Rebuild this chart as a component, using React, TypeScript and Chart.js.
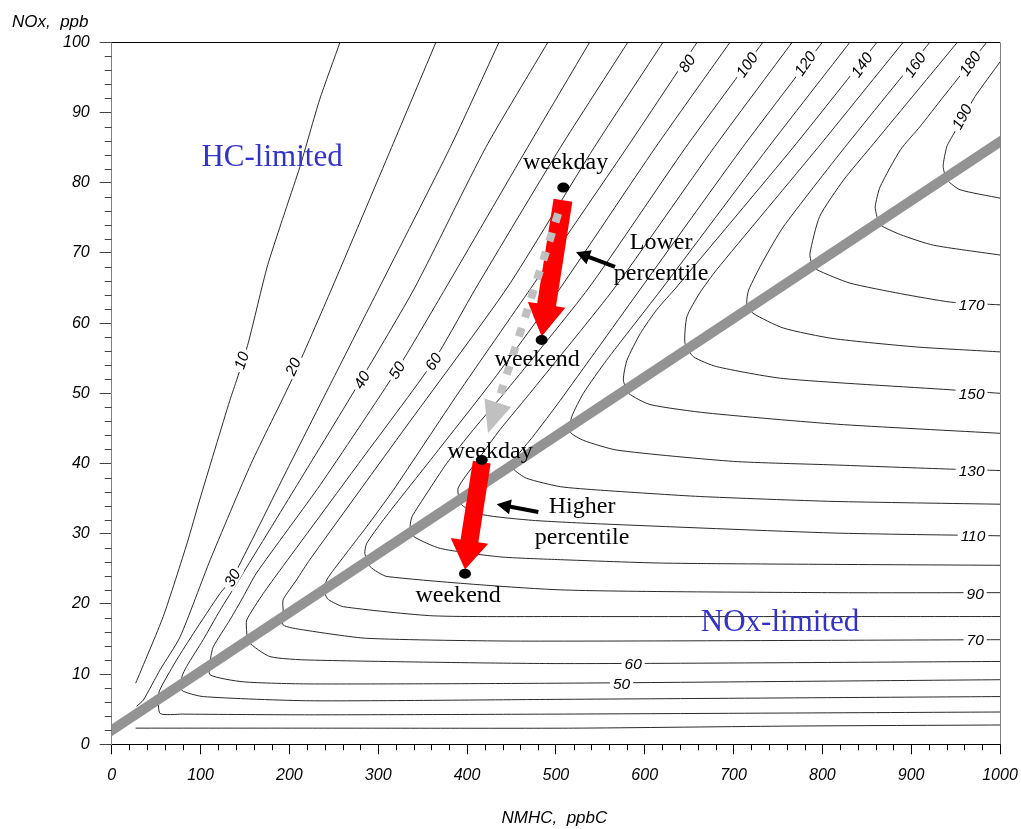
import React, { useEffect, useRef } from 'react';
import { Chart, registerables } from 'chart.js';

Chart.register(...registerables);

// Axis tick labels
const xTickValues = [0, 100, 200, 300, 400, 500, 600, 700, 800, 900, 1000];
const yTickValues = [0, 10, 20, 30, 40, 50, 60, 70, 80, 90, 100];

// Ozone isopleths [NMHC ppbC, NOx ppb]
const c10 = [[257, 100], [234, 91.8], [212, 82.3], [197, 76.6], [175, 68], [154, 57.3], [141, 52], [133, 49], [99, 34.8], [85, 28.7], [58, 18.2], [27, 8.7]];
const c20 = [[365, 100], [315, 85], [248, 65], [203, 52], [157, 40], [111, 26.3], [77, 15.3], [54.4, 10.6], [35.6, 6.3], [28, 5.4], [27.5, null], [27, 2.3], [220, 2.3], [520, 2.3], [767, 2.6], [1000, 2.75]];
const c30 = [[436, 100], [381, 85], [301, 65], [249, 52], [197, 39], [136, 23.7], [122, 21.5], [92, 15.8], [73, 12], [58, 8.7], [53, 7.3], [54.4, 4.4], [80, 4.3], [223, 4.2], [500, 4.3], [1000, 4.6]];
const c40 = [[491, 100], [421, 85], [341, 65], [281, 52], [209, 37], [140.7, 22.9], [122, 19.1], [103, 14.9], [84.4, 11.1], [79, 9.6], [78.8, 7.7], [103, 6.8], [223, 6.2], [500, 6.4], [1000, 6.8]];
const c50 = [[538, 100], [468, 85], [376, 65], [321, 53.3], [235, 37], [163, 24.4], [148, 21], [133, 17.7], [114.4, 13.9], [111, 12], [110.7, 9.9], [148, 8.9], [223, 8.6], [500, 8.7], [1000, 9.2]];
const c60 = [[581, 100], [505, 85], [410, 65], [362, 54.5], [278, 40], [189.5, 24.8], [170.7, 21.5], [152, 17.7], [152, 16], [153.8, 14.6], [178, 12.5], [223, 12.0], [500, 11.5], [1000, 11.8]];
const c70 = [[620.6, 100], [543, 85], [445, 65], [330, 45], [223, 26.3], [208, 23.4], [193, 20.6], [193, 19.1], [193, 17.0], [215.7, 16.3], [287, 15.1], [460, 14.7], [1000, 14.9]];
const c80 = [[659, 100], [580, 85], [472, 65], [390, 50], [317, 36.2], [287, 31], [261, 26.7], [242, 23.4], [240, 21.5], [244, 20.6], [261, 19.6], [362, 18.3], [505, 18.2], [1000, 18.2]];
const c90 = [[696, 100], [612, 85], [505, 65], [430, 52], [362, 41], [332, 36.2], [306, 32], [287, 28.6], [285, 27.2], [291, 25.3], [310, 23.9], [505, 22], [812, 21.6], [1000, 21.6]];
const c100 = [[733, 100], [646, 85], [537, 65], [445, 50.5], [407, 44.8], [377, 40], [355, 35.8], [338, 32.4], [336, 31], [340, 29.6], [370, 27.9], [437, 26.7], [505, 26.3], [625, 25.8], [1000, 25.5]];
const c110 = [[766, 100], [678, 85], [566, 65], [474, 50.5], [437, 44.8], [415, 41], [390, 36.5], [394, 34.1], [418, 32.7], [474, 31.9], [550, 31.4], [812, 30.1], [1000, 29.7]];
const c120 = [[800, 100], [710, 85], [596, 65], [505, 49], [474, 43.8], [456, 41], [452, 39.3], [467, 37.9], [505, 36.7], [550, 36.2], [662, 35.3], [812, 34.6], [1000, 34.2]];
const c130 = [[831, 100], [739, 85], [620, 65], [557, 54.7], [531, 50], [518, 46.7], [516, 44.5], [531, 43.3], [569, 41.9], [700, 40.3], [812, 39.8], [944, 39.2], [1000, 39]];
const c140 = [[861.5, 100], [767, 85], [635, 65], [613.5, 61.9], [595, 58.5], [580, 54.7], [576, 51.9], [582, 50], [606, 48.4], [670, 47.2], [816, 45.6], [1000, 44.3]];
const c150 = [[891, 100], [795, 85], [681, 67.6], [662, 64.3], [647.5, 60.9], [645.4, 57.1], [655, 55.2], [681, 53.8], [756, 52.1], [944, 50.5], [1000, 50]];
const c160 = [[921, 100], [825, 85], [756, 73.7], [734, 69], [717, 64.7], [715, 62.8], [722, 61.4], [756, 59.3], [812, 57.8], [906, 56.6], [1000, 55.9]];
const c170 = [[952, 100], [854, 85], [824, 80.4], [797, 75.2], [786, 69.9], [788, 68.5], [794, 67.6], [831, 65.7], [888, 64.2], [944, 63], [1000, 62.6]];
const c180 = [[985, 100], [936, 92.2], [910, 88], [888, 84.7], [865, 79.4], [859.5, 76.6], [861.4, 75.2], [865, 74], [888, 72.6], [925, 71.1], [1000, 69.7]];
const c190 = [[1000, 97.2], [972, 92.3], [958.6, 89.3], [944, 86.1], [940, 85.1], [936, 82.3], [940.5, 80.4], [955, 79], [1000, 77.8]];

const contours = [c10, c20, c30, c40, c50, c60, c70, c80, c90, c100, c110, c120, c130, c140, c150, c160, c170, c180, c190];

// Contour labels: text, NMHC, NOx, angle (deg)
const contourLabels: [string, number, number, number][] = [
  ['10', 146, 54.7, -72], ['20', 204, 53.8, -66], ['30', 135.7, 23.7, -60],
  ['40', 281.4, 51.9, -60], ['50', 321, 53.3, -58], ['60', 362, 54.5, -57],
  ['80', 647.4, 97, -55], ['100', 715, 96.8, -55], ['120', 780.5, 97, -55],
  ['140', 844.3, 96.8, -55], ['160', 904.3, 96.8, -55], ['180', 966.2, 97, -55],
  ['190', 957, 89.4, -62],
  ['170', 968, 62.6, 0], ['150', 968, 50, 0], ['130', 968, 39, 0], ['110', 969.6, 29.7, 0],
  ['90', 972, 21.5, 0], ['70', 972, 14.9, 0], ['60', 587, 11.5, 0], ['50', 574, 8.7, 0],
];

// Ridge line separating HC-limited and NOx-limited regimes
const ridgeLine = [[-15, 0.74], [1015, 87.1]];

// Arrows [tail, tip]
const redArrowUpper = [[508, 77.5], [484, 58.1]];
const redArrowLower = [[416.6, 40.2], [397.7, 24.9]];
const grayArrow = [[502.6, 75.6], [423.6, 44.3]];
const pointerLower = [[566.6, 68.0], [522.7, 70.1]];
const pointerHigher = [[480.3, 33.1], [433.4, 34.2]];

// Weekday / weekend points
const dayPoints = [[508.4, 79.3], [484, 57.6], [416.6, 40.5], [397.7, 24.3]];

const annotations: [string, number, number][] = [
  ['weekday', 511, 82.8], ['weekend', 479, 54.8], ['weekday', 425.9, 41.7], ['weekend', 390, 21.1],
  ['Lower', 618.5, 71.4], ['percentile', 618.5, 67.1], ['Higher', 529.5, 33.8], ['percentile', 529.5, 29.5],
];
const regionLabels: [string, number, number][] = [['HC-limited', 180.5, 83.6], ['NOx-limited', 752.4, 17.3]];

const SANS = '"Liberation Sans", Arial, Helvetica, sans-serif';
const SERIF = '"Liberation Serif", "Times New Roman", serif';

function thickArrow(ctx: CanvasRenderingContext2D, x1: number, y1: number, x2: number, y2: number, shaftW: number, headW: number, headL: number, color: string) {
  const dx = x2 - x1, dy = y2 - y1;
  const len = Math.hypot(dx, dy);
  const ux = dx / len, uy = dy / len;
  const px = -uy, py = ux;
  const bx = x2 - ux * headL, by = y2 - uy * headL;
  ctx.beginPath();
  ctx.moveTo(x1 + px * shaftW / 2, y1 + py * shaftW / 2);
  ctx.lineTo(bx + px * shaftW / 2, by + py * shaftW / 2);
  ctx.lineTo(bx + px * headW / 2, by + py * headW / 2);
  ctx.lineTo(x2, y2);
  ctx.lineTo(bx - px * headW / 2, by - py * headW / 2);
  ctx.lineTo(bx - px * shaftW / 2, by - py * shaftW / 2);
  ctx.lineTo(x1 - px * shaftW / 2, y1 - py * shaftW / 2);
  ctx.closePath();
  ctx.fillStyle = color;
  ctx.fill();
}

const overlayPlugin = {
  id: 'overlay',
  afterDatasetsDraw(chart: any) {
    const ctx: CanvasRenderingContext2D = chart.ctx;
    const xs = chart.scales.x, ys = chart.scales.y;
    const P = (p: number[]) => [xs.getPixelForValue(p[0]), ys.getPixelForValue(p[1])];
    ctx.save();

    // contour labels
    ctx.font = `italic 15.5px ${SANS}`;
    ctx.textAlign = 'center';
    ctx.textBaseline = 'middle';
    for (const [t, x, y, a] of contourLabels) {
      const [px, py] = P([x, y]);
      ctx.save();
      ctx.translate(px, py);
      ctx.rotate((a * Math.PI) / 180);
      const w = ctx.measureText(t).width;
      ctx.fillStyle = '#fff';
      ctx.fillRect(-w / 2 - 3, -7, w + 6, 14);
      ctx.fillStyle = '#000';
      ctx.fillText(t, 0, 1);
      ctx.restore();
    }

    // red arrows
    {
      const [a, b] = [P(redArrowUpper[0]), P(redArrowUpper[1])];
      thickArrow(ctx, a[0], a[1], b[0], b[1], 19, 38, 32, '#ff0000');
      const [c, d] = [P(redArrowLower[0]), P(redArrowLower[1])];
      thickArrow(ctx, c[0], c[1], d[0], d[1], 18, 38, 29, '#ff0000');
    }

    // gray dashed arrow
    {
      const a = P(grayArrow[0]), b = P(grayArrow[1]);
      const dx = b[0] - a[0], dy = b[1] - a[1];
      const len = Math.hypot(dx, dy);
      const ux = dx / len, uy = dy / len;
      const headL = 32, headW = 28;
      const bx = b[0] - ux * headL, by = b[1] - uy * headL;
      ctx.save();
      ctx.strokeStyle = '#c0c0c0';
      ctx.lineWidth = 8;
      ctx.setLineDash([9, 11]);
      ctx.beginPath();
      ctx.moveTo(a[0], a[1]);
      ctx.lineTo(bx, by);
      ctx.stroke();
      ctx.restore();
      ctx.beginPath();
      ctx.moveTo(bx - uy * headW / 2, by + ux * headW / 2);
      ctx.lineTo(b[0], b[1]);
      ctx.lineTo(bx + uy * headW / 2, by - ux * headW / 2);
      ctx.closePath();
      ctx.fillStyle = '#c0c0c0';
      ctx.fill();
    }

    // black pointer arrows
    for (const arr of [pointerLower, pointerHigher]) {
      const a = P(arr[0]), b = P(arr[1]);
      thickArrow(ctx, a[0], a[1], b[0], b[1], 4, 15, 14, '#000');
    }

    // dots
    ctx.fillStyle = '#000';
    for (const p of dayPoints) {
      const [px, py] = P(p);
      ctx.beginPath();
      ctx.ellipse(px, py, 6, 5, 0, 0, Math.PI * 2);
      ctx.fill();
    }

    // annotations
    ctx.font = `24px ${SERIF}`;
    ctx.fillStyle = '#000';
    ctx.textAlign = 'center';
    ctx.textBaseline = 'middle';
    for (const [t, x, y] of annotations) {
      const [px, py] = P([x, y]);
      ctx.fillText(t, px, py);
    }
    ctx.font = `31px ${SERIF}`;
    ctx.fillStyle = '#3333cc';
    for (const [t, x, y] of regionLabels) {
      const [px, py] = P([x, y]);
      ctx.fillText(t, px, py);
    }
    ctx.restore();
  },
  afterDraw(chart: any) {
    const ctx: CanvasRenderingContext2D = chart.ctx;
    const xs = chart.scales.x, ys = chart.scales.y;
    const { left, right, top, bottom } = chart.chartArea;
    ctx.save();
    ctx.lineWidth = 1;
    // frame top & right
    ctx.strokeStyle = '#000';
    ctx.beginPath();
    ctx.moveTo(left, Math.round(top) + 0.5);
    ctx.lineTo(right, Math.round(top) + 0.5);
    ctx.stroke();
    ctx.strokeStyle = '#808080';
    ctx.beginPath();
    ctx.moveTo(Math.round(right) + 0.5, top);
    ctx.lineTo(Math.round(right) + 0.5, bottom);
    ctx.stroke();
    // minor ticks
    ctx.strokeStyle = '#000';
    const xMinor = xTickValues[1] / 5;
    for (let v = xTickValues[0]; v <= xTickValues[xTickValues.length - 1]; v += xMinor) {
      if (v % xTickValues[1] === 0) continue;
      const px = Math.round(xs.getPixelForValue(v)) + 0.5;
      ctx.beginPath();
      ctx.moveTo(px, bottom);
      ctx.lineTo(px, bottom + 6);
      ctx.stroke();
    }
    ctx.strokeStyle = '#444';
    const yMinor = yTickValues[1] / 5;
    for (let v = yTickValues[0]; v <= yTickValues[yTickValues.length - 1] + 1e-9; v += yMinor) {
      const r = Math.round(v * 10) / 10;
      if (Math.abs(r % yTickValues[1]) < 1e-6) continue;
      const py = Math.round(ys.getPixelForValue(r)) + 0.5;
      ctx.beginPath();
      ctx.moveTo(left - 7, py);
      ctx.lineTo(left, py);
      ctx.stroke();
    }
    // axis titles
    ctx.fillStyle = '#000';
    ctx.font = `italic 17px ${SANS}`;
    ctx.textAlign = 'left';
    ctx.textBaseline = 'alphabetic';
    ctx.fillText('NOx,  ppb', 12, 26.5);
    ctx.fillText('NMHC,  ppbC', 501.5, 822.5);
    ctx.restore();
  },
};

export default function App() {
  const ref = useRef<HTMLCanvasElement | null>(null);
  useEffect(() => {
    if (!ref.current) return;
    const toPts = (arr: (number | null)[][]) => arr.map(([x, y]) => ({ x: x as number, y: y as any }));
    const datasets: any[] = [
      {
        label: 'ridge',
        data: toPts(ridgeLine),
        showLine: true,
        borderColor: '#939393',
        borderWidth: 10,
        pointRadius: 0,
        tension: 0,
        borderCapStyle: 'butt',
        clip: 0,
        order: 0,
      },
      ...contours.map((c, i) => ({
        label: `O3 ${(i + 1) * 10}`,
        data: toPts(c),
        showLine: true,
        borderColor: '#2a2a2a',
        borderWidth: 1,
        pointRadius: 0,
        tension: 0.2,
        spanGaps: false,
        order: 1,
      })),
    ];
    const tickFont = { family: SANS, size: 16, style: 'italic' as const };
    const chart = new Chart(ref.current, {
      type: 'scatter',
      data: { datasets },
      options: {
        animation: false,
        responsive: false,
        devicePixelRatio: 1,
        events: [],
        layout: { padding: { left: 0, top: 42.3, right: 21, bottom: 0 } },
        plugins: { legend: { display: false }, tooltip: { enabled: false } },
        scales: {
          x: {
            type: 'linear',
            min: xTickValues[0],
            max: xTickValues[xTickValues.length - 1],
            afterBuildTicks: (s: any) => { s.ticks = xTickValues.map((v) => ({ value: v })); },
            afterFit: (s: any) => { s.height = 829 - 744.3; s.paddingRight = 0; s.paddingLeft = 0; },
            ticks: { color: '#000', padding: 12, maxRotation: 0, autoSkip: false, font: tickFont, callback: (v: any) => String(v) },
            grid: { drawOnChartArea: false, drawTicks: true, tickLength: 10, color: '#000' },
            border: { color: '#000', width: 1 },
          },
          y: {
            type: 'linear',
            min: yTickValues[0],
            max: yTickValues[yTickValues.length - 1],
            afterBuildTicks: (s: any) => { s.ticks = yTickValues.map((v) => ({ value: v })); },
            afterFit: (s: any) => { s.width = 111.7; s.paddingTop = 0; s.paddingBottom = 0; },
            ticks: { color: '#000', padding: 10, autoSkip: false, font: tickFont, callback: (v: any) => String(v) },
            grid: { drawOnChartArea: false, drawTicks: true, tickLength: 12, color: '#444' },
            border: { color: '#808080', width: 1 },
          },
        },
      } as any,
      plugins: [overlayPlugin],
    });
    return () => chart.destroy();
  }, []);
  return (
    <div style={{ position: 'fixed', left: 0, top: 0, width: 1021, height: 829, background: '#fff' }}>
      <canvas ref={ref} width={1021} height={829} style={{ display: 'block' }} />
    </div>
  );
}
